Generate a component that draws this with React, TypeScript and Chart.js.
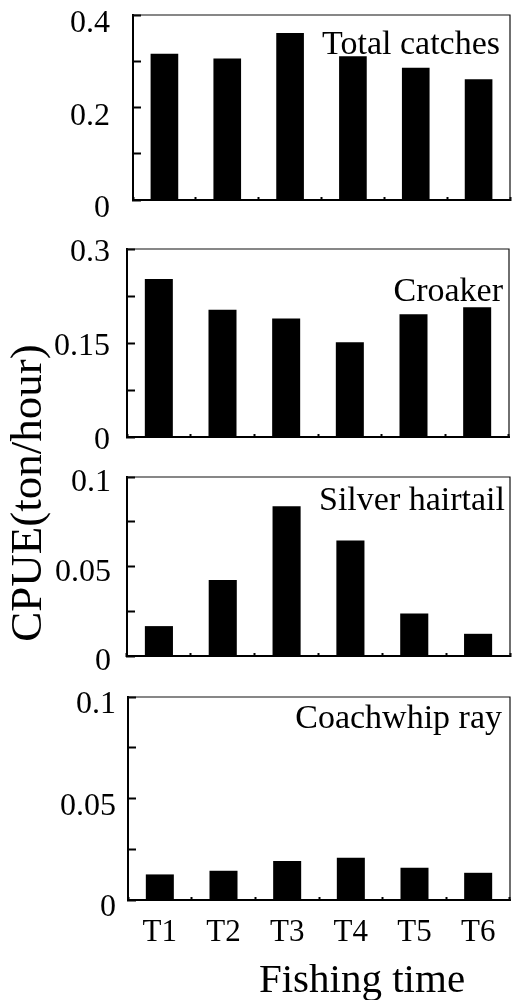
import React, { useEffect, useRef } from 'react';
import { Chart, registerables } from 'chart.js';

Chart.register(...registerables);

// ---- data ----
const categories = ['T1', 'T2', 'T3', 'T4', 'T5', 'T6'];
const totalCatches = [0.316, 0.306, 0.361, 0.311, 0.286, 0.261];
const croaker = [0.252, 0.203, 0.189, 0.151, 0.196, 0.207];
const silverHairtail = [0.0167, 0.0424, 0.0837, 0.0645, 0.0238, 0.0124];
const coachwhipRay = [0.0126, 0.0144, 0.0192, 0.0208, 0.0159, 0.0134];

const panelNames = ['Total catches', 'Croaker', 'Silver hairtail', 'Coachwhip ray'];
const yMax = [0.4, 0.3, 0.1, 0.1];
const yStep = [0.1, 0.075, 0.025, 0.025];
const totalTicks = ['0', '', '0.2', '', '0.4'];
const croakerTicks = ['0', '', '0.15', '', '0.3'];
const hairtailTicks = ['0', '', '0.05', '', '0.1'];
const rayTicks = ['0', '', '0.05', '', '0.1'];
const yTitle = 'CPUE(ton/hour)';
const xTitle = 'Fishing time';

const seriesList = [totalCatches, croaker, silverHairtail, coachwhipRay];
const tickList = [totalTicks, croakerTicks, hairtailTicks, rayTicks];

// ---- layout ----
const W = 513;
const H = 1000;
const FONT = "'Liberation Serif', 'Times New Roman', serif";
const frames = [
  { left: 133, top: 15, right: 510, bottom: 200, labelX: 500, labelY: 54, tickRight: 110, tickShift: 9 },
  { left: 127, top: 249, right: 509, bottom: 437, labelX: 503, labelY: 301, tickRight: 110, tickShift: 4 },
  { left: 127, top: 477, right: 510, bottom: 656, labelX: 505, labelY: 510, tickRight: 111, tickShift: 6 },
  { left: 128, top: 697, right: 510, bottom: 900, labelX: 502, labelY: 728, tickRight: 116, tickShift: 8 },
];

function Panel({ index }: { index: number }) {
  const ref = useRef<HTMLCanvasElement>(null);

  useEffect(() => {
    if (!ref.current) return;
    const f = frames[index];
    const isLast = index === 3;

    const decor = {
      id: 'decor' + index,
      afterDraw(chart: any) {
        const { ctx, chartArea } = chart;
        ctx.save();
        ctx.strokeStyle = '#111';
        ctx.lineWidth = 1.2;
        ctx.beginPath();
        ctx.moveTo(chartArea.left, chartArea.top);
        ctx.lineTo(chartArea.right, chartArea.top);
        ctx.lineTo(chartArea.right, chartArea.bottom);
        ctx.stroke();

        ctx.fillStyle = '#000';
        ctx.font = `34px ${FONT}`;
        ctx.textAlign = 'right';
        ctx.textBaseline = 'alphabetic';
        ctx.fillText(panelNames[index], f.labelX, f.labelY);

        if (index === 1) {
          ctx.save();
          ctx.translate(29, 493);
          ctx.rotate(-Math.PI / 2);
          ctx.font = `45px ${FONT}`;
          ctx.textAlign = 'center';
          ctx.textBaseline = 'middle';
          ctx.fillText(yTitle, 0, 0);
          ctx.restore();
        }
        if (isLast) {
          ctx.font = `41px ${FONT}`;
          ctx.textAlign = 'center';
          ctx.textBaseline = 'alphabetic';
          ctx.fillText(xTitle, 362, 992);
        }
        ctx.restore();
      },
    };

    const chart = new Chart(ref.current, {
      type: 'bar',
      data: {
        labels: categories,
        datasets: [
          {
            data: seriesList[index],
            backgroundColor: '#000',
            borderWidth: 0,
            barPercentage: 0.44,
            categoryPercentage: 1,
          },
        ],
      },
      options: {
        responsive: false,
        animation: false,
        devicePixelRatio: 1,
        layout: { padding: { left: 0, top: f.top, right: W - f.right, bottom: 0 } },
        plugins: {
          legend: { display: false },
          tooltip: { enabled: false },
          title: { display: false },
        },
        scales: {
          x: {
            grid: {
              offset: true,
              drawOnChartArea: false,
              drawTicks: true,
              tickLength: -3,
              tickWidth: 2,
              tickColor: '#000',
            },
            border: { display: true, color: '#000', width: 2 },
            ticks: {
              display: isLast,
              color: '#000',
              font: { family: FONT, size: 31 },
              padding: 17,
              maxRotation: 0,
              autoSkip: false,
            },
            afterFit: (s: any) => {
              s.height = H - f.bottom;
              s.paddingLeft = 0;
              s.paddingRight = 0;
            },
          },
          y: {
            min: 0,
            max: yMax[index],
            grid: {
              drawOnChartArea: false,
              drawTicks: true,
              tickLength: -8,
              tickWidth: 2,
              tickColor: '#000',
            },
            border: { display: true, color: '#000', width: 2 },
            ticks: {
              stepSize: yStep[index],
              autoSkip: false,
              color: '#000',
              font: { family: FONT, size: 32 },
              padding: f.left + 8 - f.tickRight,
              labelOffset: f.tickShift,
              callback: (_v: any, i: number) => tickList[index][i],
            },
            afterFit: (s: any) => {
              s.width = f.left;
              s.paddingTop = 0;
              s.paddingBottom = 0;
            },
          },
        },
      } as any,
      plugins: [decor],
    });
    return () => chart.destroy();
  }, [index]);

  return (
    <canvas
      ref={ref}
      width={W}
      height={H}
      style={{ position: 'absolute', left: 0, top: 0, width: W, height: H }}
    />
  );
}

export default function App() {
  return (
    <div style={{ position: 'absolute', left: 0, top: 0, width: W, height: H, background: '#fff' }}>
      <Panel index={0} />
      <Panel index={1} />
      <Panel index={2} />
      <Panel index={3} />
    </div>
  );
}
